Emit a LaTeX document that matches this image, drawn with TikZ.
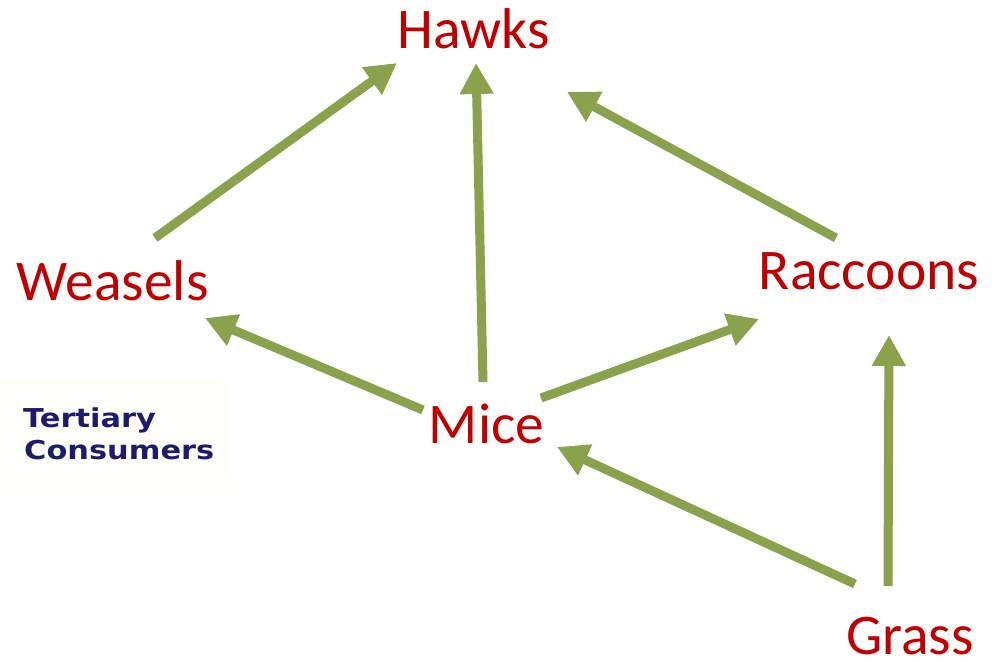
\documentclass[tikz,border=0pt]{standalone}
\usepackage{fontspec}
\setmainfont{Carlito}
\newfontfamily\tcfont{DejaVu Sans}
\usetikzlibrary{arrows.meta,calc}
\definecolor{arrgreen}{HTML}{8AA24C}
\definecolor{labred}{HTML}{C00000}
\definecolor{navy}{HTML}{1E1B6C}
\definecolor{cream}{HTML}{FEFEFA}
\tikzset{
  animal/.style={text=labred,inner sep=0pt,anchor=base,font=\fontsize{57.5}{60}\selectfont},
  tier/.style={text=navy,inner sep=0pt,anchor=base west,xscale=1.17,transform shape,font=\tcfont\bfseries\fontsize{26}{31}\selectfont},
  arr/.style={draw=arrgreen,line width=9pt,line cap=butt,-{Triangle[length=31pt,width=32pt,fill=arrgreen]}}
}
\begin{document}
\begin{tikzpicture}[x=1pt,y=-1pt]
\useasboundingbox (0,0) rectangle (997,663);
\fill[cream] (0,378) rectangle (235,495);
\node[animal] (hawks) at (473.5,49) {Hawks};
\node[animal] (weasels) at (112.5,301) {Weasels};
\node[animal] (raccoons) at (869,290) {Raccoons};
\node[animal] (mice) at (486.5,443) {Mice};
\node[animal,text depth=0pt] (grass) at (910,654) {Grass};
\node[tier] (tert) at (23,428) {Tertiary};
\node[tier] (cons) at (24,459) {Consumers};
\draw[arr] ([shift={(42.5,-63)}]weasels.base) -- ([shift={(-76.5,14)}]hawks.base);
\draw[arr] ([shift={(-3.5,-61)}]mice.base) -- ([shift={(2.5,14)}]hawks.base);
\draw[arr] ([shift={(-33,-52)}]raccoons.base) -- ([shift={(93.5,43)}]hawks.base);
\draw[arr] ([shift={(-63.5,-33)}]mice.base) -- ([shift={(92.5,17)}]weasels.base);
\draw[arr] ([shift={(54.5,-45)}]mice.base) -- ([shift={(-110,29)}]raccoons.base);
\draw[arr] ([shift={(-55,-70)}]grass.base) -- ([shift={(70.5,4)}]mice.base);
\draw[arr] ([shift={(-22,-68)}]grass.base) -- ([shift={(20,45)}]raccoons.base);
\end{tikzpicture}
\end{document}
